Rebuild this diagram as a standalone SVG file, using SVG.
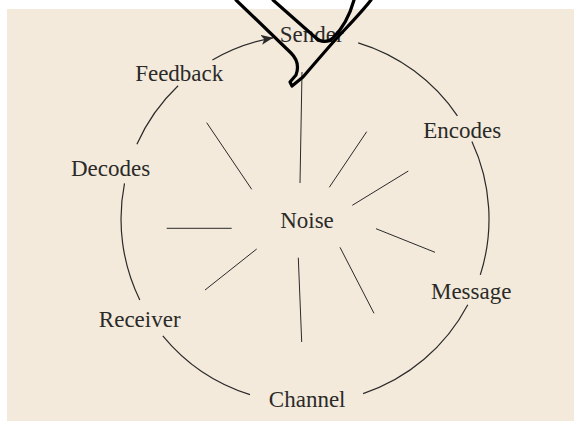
<svg xmlns="http://www.w3.org/2000/svg" width="574" height="421" viewBox="0 0 574 421">
  <defs>
    <style>
      .lbl { font-family: "Liberation Serif", "DejaVu Serif", serif; font-size: 23px; fill: #2b2a29; text-anchor: middle; }
      .arc { fill: none; stroke: #2b2a29; stroke-width: 1.2; }
      .spoke { fill: none; stroke: #2b2a29; stroke-width: 1; }
      .nib { fill: none; stroke: #000; stroke-width: 3.2; stroke-linejoin: round; stroke-linecap: round; }
    </style>
    <marker id="arrow" markerWidth="14" markerHeight="10" refX="12" refY="5" orient="auto" markerUnits="userSpaceOnUse">
      <path d="M0,0 L12,5 L0,10 L3,5 Z" fill="#2b2a29"/>
    </marker>
  </defs>
  <rect x="7" y="9" width="567" height="412" fill="#F3EADC"/>

  <g id="connectors">
    <path class="arc" d="M358.2,42.9 A184,184 0 0 1 457.4,115.9"/>
    <path class="arc" d="M471.9,141.5 A184,184 0 0 1 480.3,274.9"/>
    <path class="arc" d="M467.8,304.8 A184,184 0 0 1 363.1,393.6"/>
    <path class="arc" d="M250.0,394.6 A184,184 0 0 1 162.8,335.8"/>
    <path class="arc" d="M139.8,299.9 A184,184 0 0 1 124.5,183.3"/>
    <path class="arc" d="M136.9,144.2 A184,184 0 0 1 178.1,85.7"/>
    <path class="arc" d="M212.4,60.0 A184,184 0 0 1 273.1,37.8" marker-end="url(#arrow)"/>
    <g id="noise-spokes">
      <line class="spoke" x1="302" y1="72" x2="300" y2="183"/>
      <line class="spoke" x1="206.7" y1="122.7" x2="251.7" y2="189.3"/>
      <line class="spoke" x1="366.7" y1="131.7" x2="329.3" y2="187.3"/>
      <line class="spoke" x1="408.3" y1="171" x2="352.3" y2="205.3"/>
      <line class="spoke" x1="376" y1="228.7" x2="435" y2="252.3"/>
      <line class="spoke" x1="340" y1="247.3" x2="374" y2="313.3"/>
      <line class="spoke" x1="298.3" y1="257.7" x2="301.7" y2="342"/>
      <line class="spoke" x1="256.7" y1="249" x2="205" y2="290"/>
      <line class="spoke" x1="166.7" y1="228.3" x2="231.7" y2="228.3" stroke="#555" stroke-width="1.4"/>
    </g>
  </g>

  <g id="sender"><text class="lbl" x="311.7" y="42">Sender</text></g>
  <g id="encodes"><text class="lbl" x="462.2" y="138.3">Encodes</text></g>
  <g id="message"><text class="lbl" x="471.2" y="299">Message</text></g>
  <g id="channel"><text class="lbl" x="307.2" y="406.7">Channel</text></g>
  <g id="receiver"><text class="lbl" x="139.7" y="326.7">Receiver</text></g>
  <g id="decodes"><text class="lbl" x="110.6" y="175.5">Decodes</text></g>
  <g id="feedback"><text class="lbl" x="179.2" y="81">Feedback</text></g>
  <g id="noise"><text class="lbl" x="307" y="228.3">Noise</text></g>

  <g id="nib">
    <path class="nib" d="M236,0 L291,53 C297,59 299,67 296,75 L290,82 L292,86 L303,77 C315,63 327,49 336,39 C347,27 361,13 371,0"/>
    <path class="nib" d="M273,0 L316,38 C320,42 328,43 333,38 C341,30 349,18 354,0"/>
  </g>
</svg>
